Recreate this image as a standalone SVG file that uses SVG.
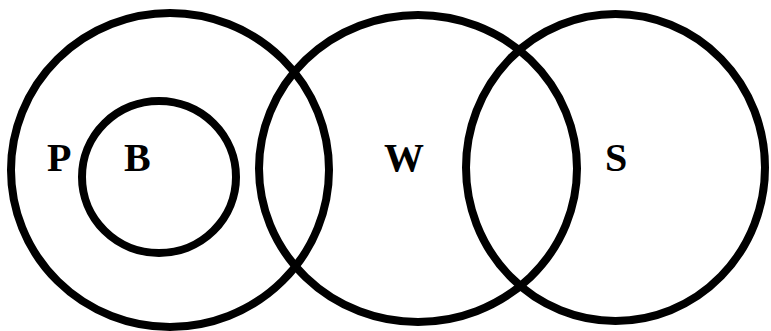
<svg xmlns="http://www.w3.org/2000/svg" width="771" height="331" viewBox="0 0 771 331">
<style>
.c{fill:none;stroke:#000;stroke-width:8}
.t{font-family:"Liberation Serif","Times New Roman",serif;font-weight:bold;font-size:40px;fill:#000}
</style>
<rect width="771" height="331" fill="#fff"/>
<g id="P"><ellipse class="c" cx="170" cy="170" rx="159" ry="157"/><text class="t" x="47" y="171">P</text></g>
<g id="B"><ellipse class="c" cx="159" cy="177" rx="77" ry="76"/><text class="t" x="124" y="171">B</text></g>
<g id="W"><ellipse class="c" cx="418" cy="168.5" rx="159" ry="153.5"/><text class="t" x="384" y="171">W</text></g>
<g id="S"><ellipse class="c" cx="615.5" cy="167.5" rx="149.5" ry="153.5"/><text class="t" x="605" y="171">S</text></g>
<g id="connectors"/>
</svg>
